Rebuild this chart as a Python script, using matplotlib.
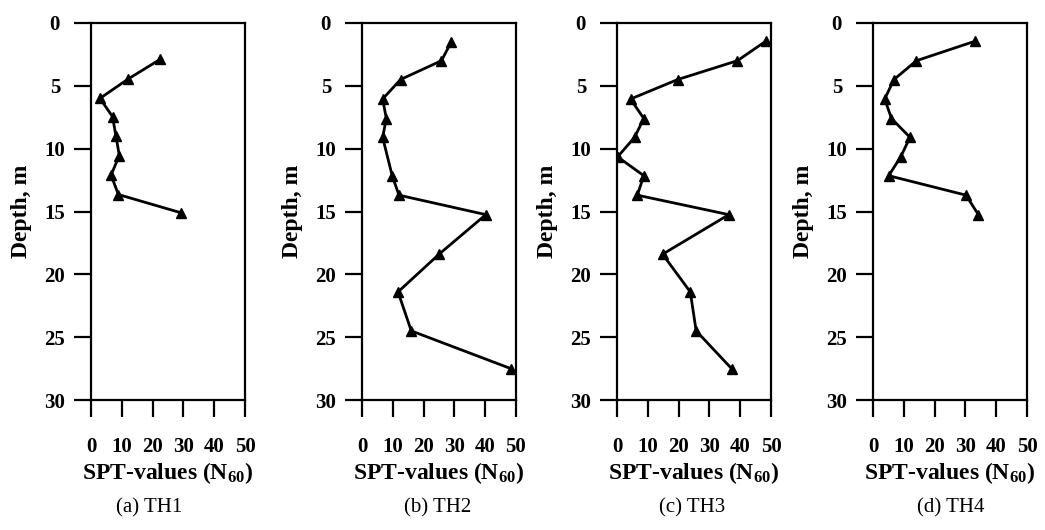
import numpy as np
import matplotlib
matplotlib.use("Agg")
import matplotlib.pyplot as plt

plt.rcParams['font.family'] = ['Liberation Serif', 'DejaVu Serif']
plt.rcParams['mathtext.default'] = 'regular'

# SPT N60 values and depths (m) for each borehole
th1_n = [22.4, 12.1, 2.9, 7.0, 8.1, 9.2, 6.5, 8.9, 29.2]
th1_d = [2.9, 4.45, 6.0, 7.45, 9.0, 10.55, 12.1, 13.65, 15.1]

th2_n = [29.0, 25.8, 12.5, 6.7, 7.9, 6.7, 9.8, 12.0, 40.2, 25.0, 11.7, 16.0, 48.3]
th2_d = [1.5, 3.0, 4.5, 6.05, 7.6, 9.1, 12.15, 13.7, 15.25, 18.4, 21.4, 24.5, 27.5]

th3_n = [48.3, 39.1, 19.7, 4.4, 8.7, 5.7, 0.2, 8.7, 6.6, 36.3, 14.8, 23.8, 25.7, 37.2]
th3_d = [1.45, 3.0, 4.5, 6.05, 7.6, 9.1, 10.65, 12.15, 13.7, 15.25, 18.4, 21.4, 24.5, 27.5]

th4_n = [33.1, 14.1, 6.8, 3.8, 6.0, 12.0, 9.0, 5.1, 30.2, 34.2]
th4_d = [1.45, 3.0, 4.5, 6.05, 7.6, 9.1, 10.65, 12.15, 13.7, 15.25]

panels = [
    (th1_n, th1_d, '(a) TH1'),
    (th2_n, th2_d, '(b) TH2'),
    (th3_n, th3_d, '(c) TH3'),
    (th4_n, th4_d, '(d) TH4'),
]

W, H = 1045, 530
lefts = [91, 362, 617, 873]
ax_w = 154
ax_top, ax_bot = 23, 400
caption_x = [149, 438, 692, 951]

fig = plt.figure(figsize=(W / 100, H / 100), dpi=100)

for i, (n, d, cap) in enumerate(panels):
    ax = fig.add_axes([lefts[i] / W, 1 - ax_bot / H, ax_w / W, (ax_bot - ax_top) / H])
    ax.plot(n, d, color='black', lw=2.0, marker='^', ms=7)
    ax.set_xlim(0, 50)
    ax.set_ylim(30, 0)
    ax.set_xticks(np.arange(0, 51, 10))
    ax.set_yticks(np.arange(0, 31, 5))
    for s in ax.spines.values():
        s.set_linewidth(1.6)
    ax.tick_params(direction='out', length=12, width=1.6, labelsize=15)
    ax.tick_params(axis='x', pad=15)
    ax.tick_params(axis='y', pad=14)
    for lab in ax.get_yticklabels():
        lab.set_fontweight('bold')
        lab.set_horizontalalignment('center')
    for lab in ax.get_xticklabels():
        lab.set_fontweight('bold')
    ax.set_ylabel('Depth, m', fontsize=17, fontweight='bold')
    ax.yaxis.set_label_coords(-0.38, 0.5)
    ax.set_xlabel('SPT-values (N$_{60}$)', fontsize=17, fontweight='bold')
    ax.xaxis.set_label_coords(0.5, -0.16)
    fig.text(caption_x[i] / W, 1 - 508 / H, cap, ha='center', va='center', fontsize=15)

plt.savefig('out.png', dpi=100)
